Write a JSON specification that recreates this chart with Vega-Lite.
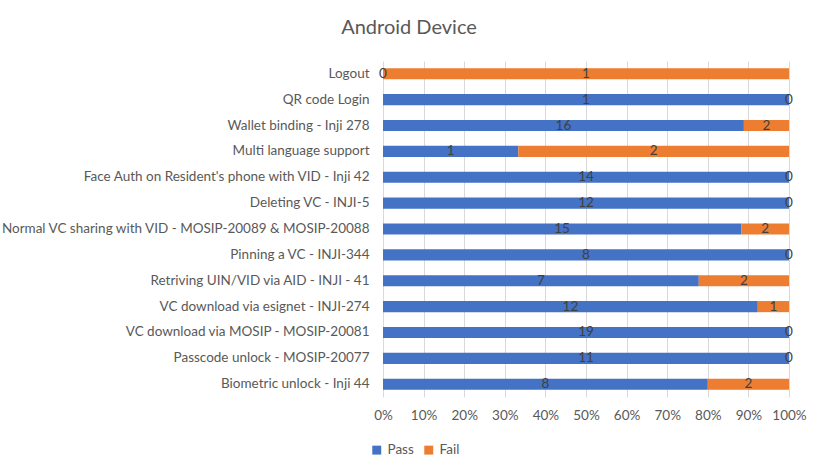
{
  "$schema": "https://vega.github.io/schema/vega-lite/v6.json",
  "width": 406,
  "height": 336,
  "autosize": {"type": "none"},
  "padding": {"left": 383, "top": 61, "right": 32, "bottom": 74},
  "background": "white",
  "title": {"text": "Android Device", "anchor": "middle", "frame": "group", "dx": -177, "offset": 23, "font": "Lato", "fontSize": 20, "fontWeight": "normal", "color": "#595959"},
  "config": {"view": {"stroke": null}, "font": "Lato"},
  "data": {"values": [
    {"test": "Logout", "result": "Pass", "count": 0, "ord": 1},
    {"test": "Logout", "result": "Fail", "count": 1, "ord": 2},
    {"test": "QR code Login", "result": "Pass", "count": 1, "ord": 1},
    {"test": "QR code Login", "result": "Fail", "count": 0, "ord": 2},
    {"test": "Wallet binding - Inji 278", "result": "Pass", "count": 16, "ord": 1},
    {"test": "Wallet binding - Inji 278", "result": "Fail", "count": 2, "ord": 2},
    {"test": "Multi language support", "result": "Pass", "count": 1, "ord": 1},
    {"test": "Multi language support", "result": "Fail", "count": 2, "ord": 2},
    {"test": "Face Auth on Resident's phone with VID - Inji 42", "result": "Pass", "count": 14, "ord": 1},
    {"test": "Face Auth on Resident's phone with VID - Inji 42", "result": "Fail", "count": 0, "ord": 2},
    {"test": "Deleting VC - INJI-5", "result": "Pass", "count": 12, "ord": 1},
    {"test": "Deleting VC - INJI-5", "result": "Fail", "count": 0, "ord": 2},
    {"test": "Normal VC sharing with VID - MOSIP-20089 & MOSIP-20088", "result": "Pass", "count": 15, "ord": 1},
    {"test": "Normal VC sharing with VID - MOSIP-20089 & MOSIP-20088", "result": "Fail", "count": 2, "ord": 2},
    {"test": "Pinning a VC - INJI-344", "result": "Pass", "count": 8, "ord": 1},
    {"test": "Pinning a VC - INJI-344", "result": "Fail", "count": 0, "ord": 2},
    {"test": "Retriving UIN/VID via AID - INJI - 41", "result": "Pass", "count": 7, "ord": 1},
    {"test": "Retriving UIN/VID via AID - INJI - 41", "result": "Fail", "count": 2, "ord": 2},
    {"test": "VC download via esignet - INJI-274", "result": "Pass", "count": 12, "ord": 1},
    {"test": "VC download via esignet - INJI-274", "result": "Fail", "count": 1, "ord": 2},
    {"test": "VC download via MOSIP - MOSIP-20081", "result": "Pass", "count": 19, "ord": 1},
    {"test": "VC download via MOSIP - MOSIP-20081", "result": "Fail", "count": 0, "ord": 2},
    {"test": "Passcode unlock - MOSIP-20077", "result": "Pass", "count": 11, "ord": 1},
    {"test": "Passcode unlock - MOSIP-20077", "result": "Fail", "count": 0, "ord": 2},
    {"test": "Biometric unlock - Inji 44", "result": "Pass", "count": 8, "ord": 1},
    {"test": "Biometric unlock - Inji 44", "result": "Fail", "count": 2, "ord": 2}
  ]},
  "transform": [
    {"stack": "count", "groupby": ["test"], "sort": [{"field": "ord", "order": "ascending"}], "offset": "normalize", "as": ["x0", "x1"]},
    {"calculate": "(datum.x0 + datum.x1) / 2", "as": "xm"}
  ],
  "encoding": {
    "y": {"field": "test", "type": "nominal", "sort": null, "title": null,
      "scale": {"paddingInner": 0.57, "paddingOuter": 0.28},
      "axis": {"domain": false, "ticks": false, "labelPadding": 14, "labelFontSize": 13.5, "labelColor": "#595959", "labelFont": "Lato", "labelLimit": 400}}
  },
  "layer": [
    {
      "mark": {"type": "bar"},
      "encoding": {
        "x": {"field": "x0", "type": "quantitative", "title": null,
          "scale": {"domain": [0, 1]},
          "axis": {"format": "%", "values": [0, 0.1, 0.2, 0.3, 0.4, 0.5, 0.6, 0.7, 0.8, 0.9, 1], "labelOverlap": false, "labelFlush": false, "domain": false, "ticks": false, "grid": true, "gridColor": "#d9d9d9", "labelPadding": 11, "labelFontSize": 13.5, "labelColor": "#595959", "labelFont": "Lato"}},
        "x2": {"field": "x1"},
        "color": {"field": "result", "type": "nominal", "sort": ["Pass", "Fail"], "title": null,
          "scale": {"domain": ["Pass", "Fail"], "range": ["#4472C4", "#ED7D31"]},
          "legend": {"orient": "none", "legendX": -13, "legendY": 382, "direction": "horizontal", "symbolType": "square", "symbolSize": 80, "labelFontSize": 13.5, "labelColor": "#595959", "labelFont": "Lato", "columnPadding": 8, "symbolOffset": 0}}
      }
    },
    {
      "mark": {"type": "text", "fontSize": 13.5, "color": "#404040", "font": "Lato", "baseline": "middle", "align": "center"},
      "encoding": {
        "x": {"field": "xm", "type": "quantitative"},
        "text": {"field": "count", "type": "quantitative"}
      }
    }
  ]
}
